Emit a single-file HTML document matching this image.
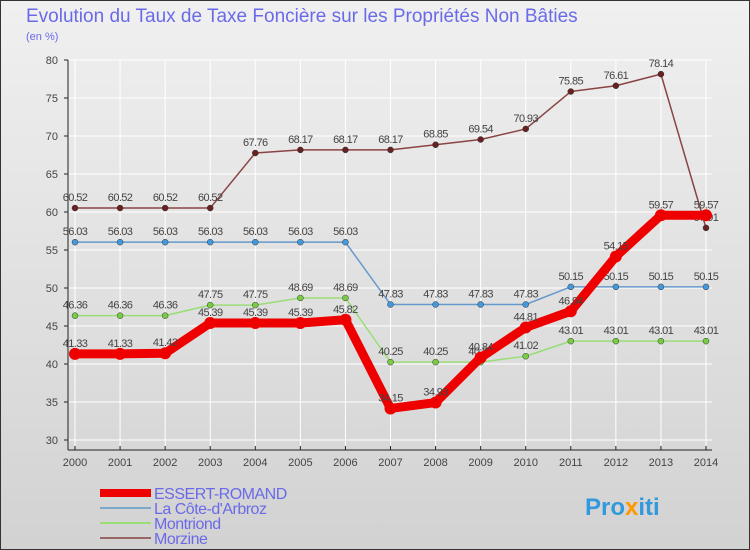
<!DOCTYPE html>
<html><head><meta charset="utf-8"><style>
body{margin:0;width:750px;height:550px;overflow:hidden;font-family:"Liberation Sans",sans-serif}
svg{display:block}
</style></head><body>
<svg id="c" width="750" height="550">
<defs><linearGradient id="bg" x1="0" y1="0" x2="0" y2="1"><stop offset="0" stop-color="#f0f0f0"/><stop offset="1" stop-color="#d2d2d2"/></linearGradient></defs>
<rect x="0.5" y="0.5" width="749" height="549" fill="url(#bg)" stroke="#333"/>
<text x="26" y="22" font-size="19" fill="#6a6ae8">Evolution du Taux de Taxe Foncière sur les Propriétés Non Bâties</text>
<text x="26" y="40" font-size="11" fill="#6a6ae8">(en %)</text>
<g id="grid"></g><g id="axes"></g><g id="series"></g>
<g>
<rect x="100" y="489" width="51" height="8" fill="#e00"/>
<text x="154" y="499" font-size="16" fill="#6a6ae8" letter-spacing="-0.5">ESSERT-ROMAND</text>
<rect x="100" y="507" width="51" height="2" fill="#7aa9cc"/>
<text x="154" y="514" font-size="16" fill="#6a6ae8" letter-spacing="-0.5">La Côte-d'Arbroz</text>
<rect x="100" y="522" width="51" height="2" fill="#99dd77"/>
<text x="154" y="529" font-size="16" fill="#6a6ae8" letter-spacing="-0.5">Montriond</text>
<rect x="100" y="537" width="51" height="2" fill="#996666"/>
<text x="154" y="544" font-size="16" fill="#6a6ae8" letter-spacing="-0.5">Morzine</text>
</g>
<text x="585" y="515" font-size="24" font-weight="bold" fill="#3399dd">Pro<tspan fill="#ff9900">x</tspan>iti</text>
</svg>
<script>
const years=[2000,2001,2002,2003,2004,2005,2006,2007,2008,2009,2010,2011,2012,2013,2014];
const yTicks=[30,35,40,45,50,55,60,65,70,75,80];
const essert=[41.33,41.33,41.42,45.39,45.39,45.39,45.82,34.15,34.93,40.84,44.81,46.94,54.15,59.57,59.57];
const cote=[56.03,56.03,56.03,56.03,56.03,56.03,56.03,47.83,47.83,47.83,47.83,50.15,50.15,50.15,50.15];
const montriond=[46.36,46.36,46.36,47.75,47.75,48.69,48.69,40.25,40.25,40.25,41.02,43.01,43.01,43.01,43.01];
const morzine=[60.52,60.52,60.52,60.52,67.76,68.17,68.17,68.17,68.85,69.54,70.93,75.85,76.61,78.14,57.91];
const NS='http://www.w3.org/2000/svg';
const x=i=>75+i*(631/(years.length-1));
const y=v=>440-(v-30)*7.6;
function mk(t,a,p){const e=document.createElementNS(NS,t);for(const k in a)e.setAttribute(k,a[k]);p.appendChild(e);return e;}
const grid=document.getElementById('grid'),axes=document.getElementById('axes'),ser=document.getElementById('series');
yTicks.forEach(v=>{
 const l=mk('line',{x1:68,x2:712,y1:y(v),y2:y(v),stroke:'#fff','stroke-width':1},grid);
 
 
 const t=mk('text',{x:58,y:y(v)+4,'text-anchor':'end','font-size':11,fill:'#444'},axes);t.textContent=v;
 
 
 mk('line',{x1:64,x2:68,y1:y(v),y2:y(v),stroke:'#222'},axes);
});
years.forEach((yr,i)=>{
 const l=mk('line',{x1:x(i),x2:x(i),y1:60,y2:450,stroke:'#fff'},grid);
 
 
 mk('line',{x1:x(i),x2:x(i),y1:446,y2:450,stroke:'#222'},axes);
 const t=mk('text',{x:x(i),y:466,'text-anchor':'middle','font-size':11,fill:'#444'},axes);t.textContent=yr;
 
 
});
mk('line',{x1:68,x2:68,y1:60,y2:450,stroke:'#222'},axes);
mk('line',{x1:68,x2:712,y1:450,y2:450,stroke:'#222'},axes);
function draw(data,name,color,w,r,dot){
 const g=mk('g',{},ser);
 
 
 const p=mk('polyline',{points:data.map((v,i)=>x(i)+','+y(v)).join(' '),fill:'none',stroke:color,'stroke-width':w,'stroke-linejoin':'round'},g);
 
 
 data.forEach((v,i)=>{
  const c=mk('circle',{cx:x(i),cy:y(v),r:r,fill:dot,stroke:'#333','stroke-width':w>4?0:0.5},g);
  
  
  const t=mk('text',{x:x(i),y:y(v)-7,'text-anchor':'middle','font-size':11,'letter-spacing':'-0.6',fill:'#444'},g);t.textContent=v.toFixed(2);
  
  
 });
}
draw(morzine,'morzine','#8a4444',1.5,3,'#662222');
draw(cote,'cote','#6699cc',1.5,3,'#4499dd');
draw(montriond,'montriond','#99dd77',1.5,3,'#77cc44');
draw(essert,'essert','#ee0000',9,6,'#ee0000');
</script>
</body></html>
